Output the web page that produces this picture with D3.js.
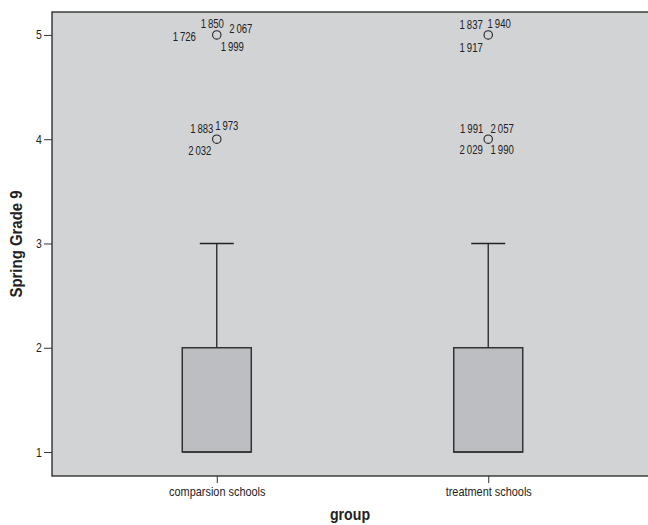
<!DOCTYPE html>
<html><head><meta charset="utf-8">
<script src="https://cdn.jsdelivr.net/npm/d3@7"></script>
<style>
html,body{margin:0;padding:0;background:#fff;}
svg text{font-family:"Liberation Sans",Arial,sans-serif;fill:#222;}
</style></head>
<body><svg id="c" width="648" height="525"></svg>
<script>
// ---- data ----
const categories = ["comparsion schools", "treatment schools"];
const whiskerLow = [1, 1];
const q1 = [1, 1];
const median = [1, 1];
const q3 = [2, 2];
const whiskerHigh = [3, 3];
const yTicks = [1, 2, 3, 4, 5];
// outliers: category index, value, case ids
const outlierCat = [0, 0, 1, 1];
const outlierValue = [5, 4, 5, 4];
const outlierIds = [
  [1850, 2067, 1726, 1999],
  [1883, 1973, 2032],
  [1837, 1940, 1917],
  [1991, 2057, 2029, 1990]
];
const yTitle = "Spring Grade 9";
const xTitle = "group";

// ---- layout (label offsets from the outlier circle) ----
const labelOffsets = [
  [[-4.5,-11],[24,-6.7],[-32.5,1.7],[15.5,11.7]],
  [[-15,-11],[10,-13.3],[-17,11.3]],
  [[-17,-10],[11,-11.7],[-17,12.3]],
  [[-16.5,-11],[14,-11],[-17,10],[14,10]]
];
const NARROW = 0.84;

const svg = d3.select("#c");
const L = 52, T = 12, R = 653, B = 476;
const x = d3.scalePoint().domain(categories).range([L, R]).padding(0.607);
const y = d3.scaleLinear().domain([0.77, 5.22]).range([B, T]);
const boxW = 69, capW = 34;

svg.append("rect").attr("x", L).attr("y", T).attr("width", R - L).attr("height", B - T)
  .attr("fill", "#d2d3d5").attr("stroke", "#222").attr("stroke-width", 1.3);

// y axis
const ya = svg.append("g").attr("transform", `translate(${L},0)`)
  .call(d3.axisLeft(y).tickValues(yTicks).tickSize(8).tickPadding(4).tickFormat(d3.format("d")));
ya.select(".domain").remove();
ya.selectAll("line").attr("stroke", "#333");
ya.selectAll("text").style("font-size", "12.5px").attr("fill", "#222").attr("transform", `scale(${NARROW},1)`);

// x axis
const xa = svg.append("g").attr("transform", `translate(0,${B})`)
  .call(d3.axisBottom(x).tickSize(7).tickPadding(4));
xa.select(".domain").remove();
xa.selectAll("line").attr("stroke", "#333");
xa.selectAll("text").style("font-size", "13px").attr("fill", "#222").attr("transform", `scale(${NARROW},1)`);

// boxes
const g = svg.append("g");
categories.forEach((c, i) => {
  const cx = x(c);
  g.append("line").attr("x1", cx).attr("x2", cx).attr("y1", y(q3[i])).attr("y2", y(whiskerHigh[i]))
    .attr("stroke", "#222").attr("stroke-width", 1.3);
  g.append("line").attr("x1", cx - capW/2).attr("x2", cx + capW/2).attr("y1", y(whiskerHigh[i])).attr("y2", y(whiskerHigh[i]))
    .attr("stroke", "#222").attr("stroke-width", 1.3);
  g.append("line").attr("x1", cx).attr("x2", cx).attr("y1", y(whiskerLow[i])).attr("y2", y(q1[i]))
    .attr("stroke", "#222").attr("stroke-width", 1.3);
  g.append("rect").attr("x", cx - boxW/2).attr("y", y(q3[i])).attr("width", boxW).attr("height", y(q1[i]) - y(q3[i]))
    .attr("fill", "#bdbec2").attr("stroke", "#333").attr("stroke-width", 1.5);
  g.append("line").attr("x1", cx - boxW/2).attr("x2", cx + boxW/2).attr("y1", y(median[i])).attr("y2", y(median[i]))
    .attr("stroke", "#333").attr("stroke-width", 1.6);
});

// outliers
const fmtId = d => { const s = String(d); return s.slice(0,1) + "\u2009" + s.slice(1); };
outlierValue.forEach((v, k) => {
  const cx = x(categories[outlierCat[k]]), cy = y(v);
  g.append("circle").attr("cx", cx).attr("cy", cy).attr("r", 4.2)
    .attr("fill", "none").attr("stroke", "#222").attr("stroke-width", 1.1);
  outlierIds[k].forEach((id, j) => {
    const o = labelOffsets[k][j];
    g.append("text").attr("transform", `translate(${cx + o[0]},${cy + o[1]}) scale(0.8,1)`)
      .attr("text-anchor", "middle").attr("dominant-baseline", "central")
      .style("font-size", "12px").text(fmtId(id));
  });
});

// titles
svg.append("text").attr("transform", `translate(22,244) rotate(-90) scale(0.88,1)`)
  .attr("text-anchor", "middle").style("font-size", "17px").style("font-weight", "bold").text(yTitle);
svg.append("text").attr("transform", `translate(${(L + 648) / 2},520) scale(0.86,1)`)
  .attr("text-anchor", "middle").style("font-size", "16.5px").style("font-weight", "bold").text(xTitle);
</script></body></html>
